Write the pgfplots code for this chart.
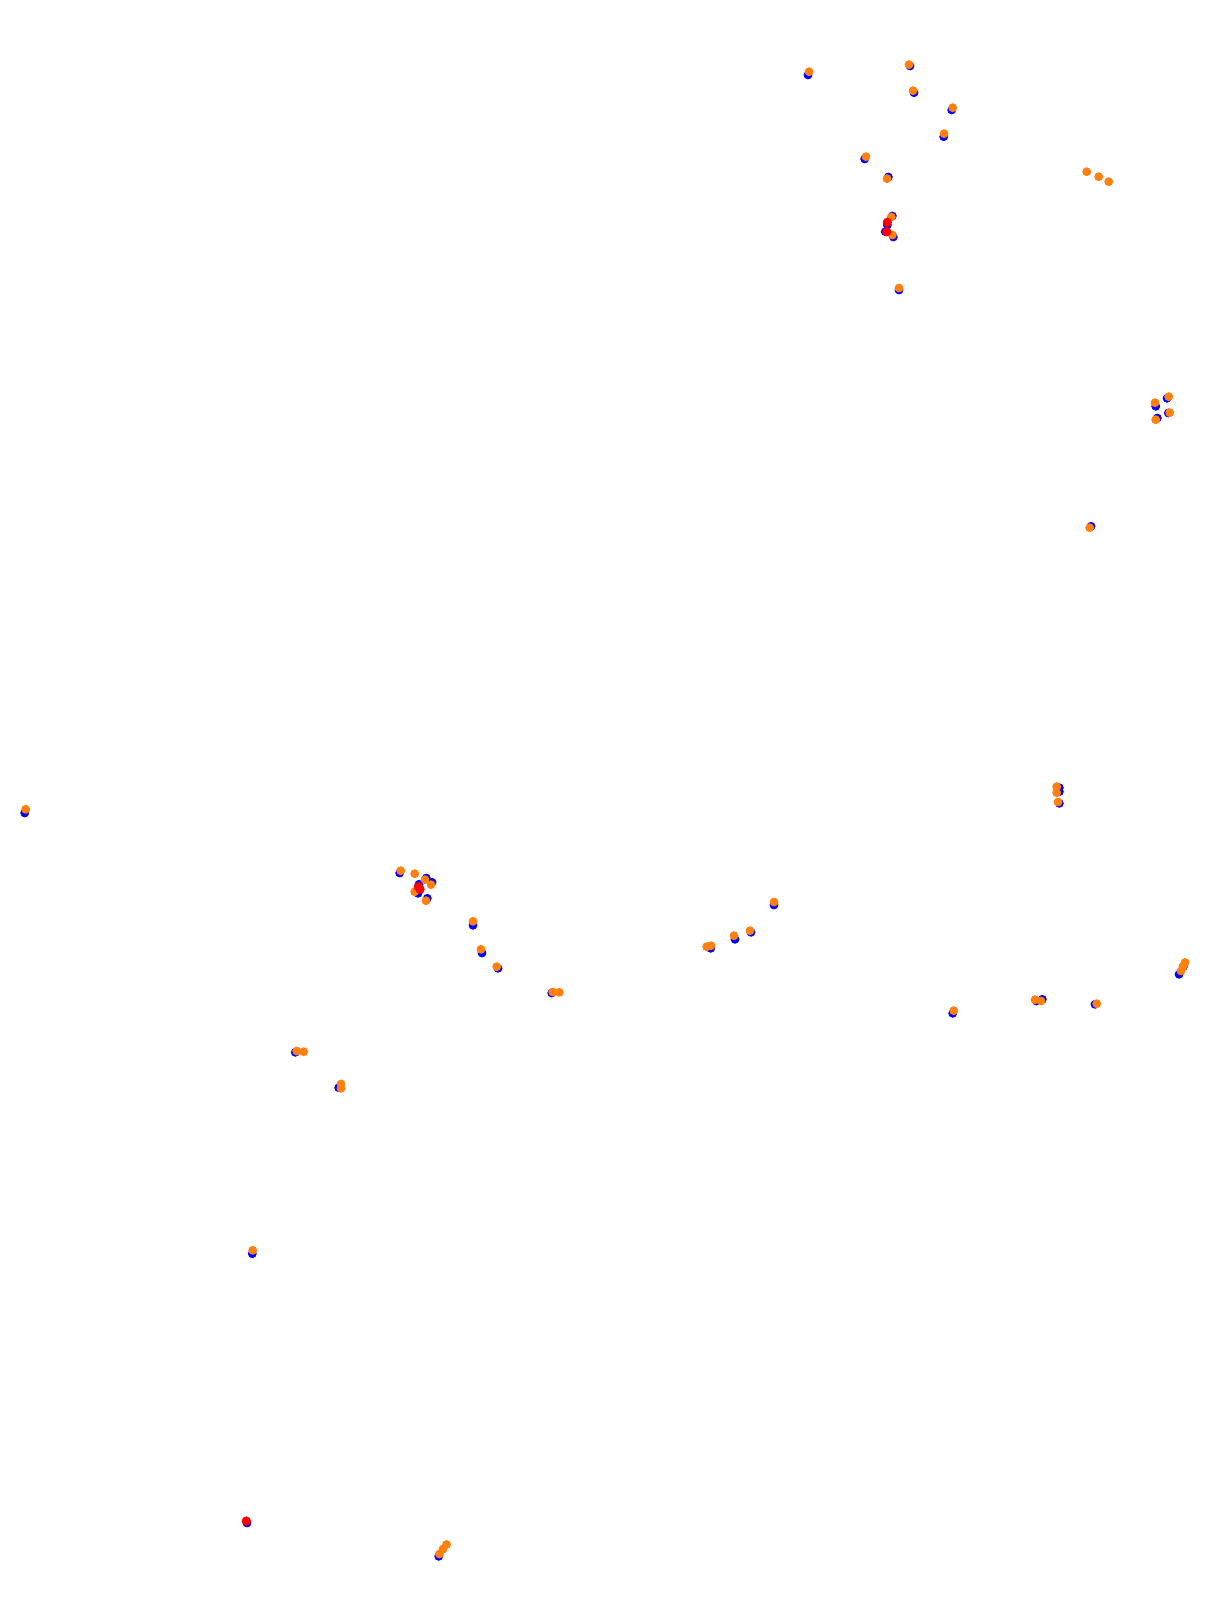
\documentclass[border=0pt]{standalone}
\usepackage{pgfplots}
\pgfplotsset{compat=1.18}
\definecolor{pblue}{RGB}{0,0,255}
\definecolor{porange}{RGB}{255,128,14}
\definecolor{pred}{RGB}{255,0,0}
\begin{document}
\begin{tikzpicture}
\begin{axis}[
  scale only axis, width=604pt, height=806.5pt,
  hide axis, clip=false,
  xmin=0, xmax=1208, ymin=0, ymax=1613, y dir=reverse,
]
\addplot[only marks, mark=*, mark size=2pt, draw=pblue, fill=pblue] coordinates {
(808,75) (910,66) (914,92.7) (951.7,110) (943.7,136.7) (864.7,159) (888.3,177) (892.3,216) (887.3,225) (885.3,231.7) (893.3,237) (899,290)
(399.7,873) (426.3,878) (432,882.3) (419,884.3) (418,893.3) (427.3,898.3) (473,925.3) (482,953) (498,968.3)
(1167,398.3) (1155.7,406.3) (1168.3,413) (1157.3,418) (1091,526.3)
(774,905) (751,932.3) (735,939.3) (710.7,948.3) (952.7,1013.3) (1036.3,1001) (1042.3,999.3) (1095,1004.3)
(247,1523) (438.7,1556.3) (24.7,813)
(1059.3,787.7) (1059.3,791.7) (1059.3,803.3)
(1183.3,966.7) (1179,974.3)
(295.3,1052.3) (338.7,1087.7) (252.3,1253.7) (551.7,993)
};
\addplot[only marks, mark=*, mark size=2pt, draw=porange, fill=porange] coordinates {
(809,71.7) (909,64.7) (913,90.7) (952.7,107.7) (944,133.7) (866,156.7) (887,178.7) (891.3,217) (892.3,235) (899,288) (1086.7,171.7) (1098.7,176.7) (1108.7,181.7)
(400.7,870.7) (414.7,873.7) (425,879.7) (431,884.7) (414.7,891.7) (426,900.7) (473,921.3) (481,949.3) (496.7,966.7)
(1168.7,396.7) (1155,402.7) (1169.7,412.7) (1155.7,419.7) (1089.7,527.7)
(774,902) (750,930.7) (734,935.7) (706.7,946.7) (711,945.7) (953.7,1010.7) (1035,999.7) (1041,1001) (1096.7,1003.7)
(439.5,1554) (443,1549) (446.5,1544.5) (25.7,809.3)
(1056.7,786.7) (1056.7,792.7) (1058,802)
(1185,962.5) (1183,966.5) (1181,971)
(296.7,1051) (303.7,1051.7) (341,1084) (341,1088.3) (252.7,1250.3) (552.7,992) (559.3,992.3)
};
\addplot[only marks, mark=*, mark size=2.1pt, draw=pred, fill=pred] coordinates {
(887.3,222.3) (886.7,231.7) (418.3,886.7) (420,889.3) (246.3,1521)
};
\end{axis}
\path (current axis.south west) rectangle (current axis.north east);
\end{tikzpicture}
\end{document}
